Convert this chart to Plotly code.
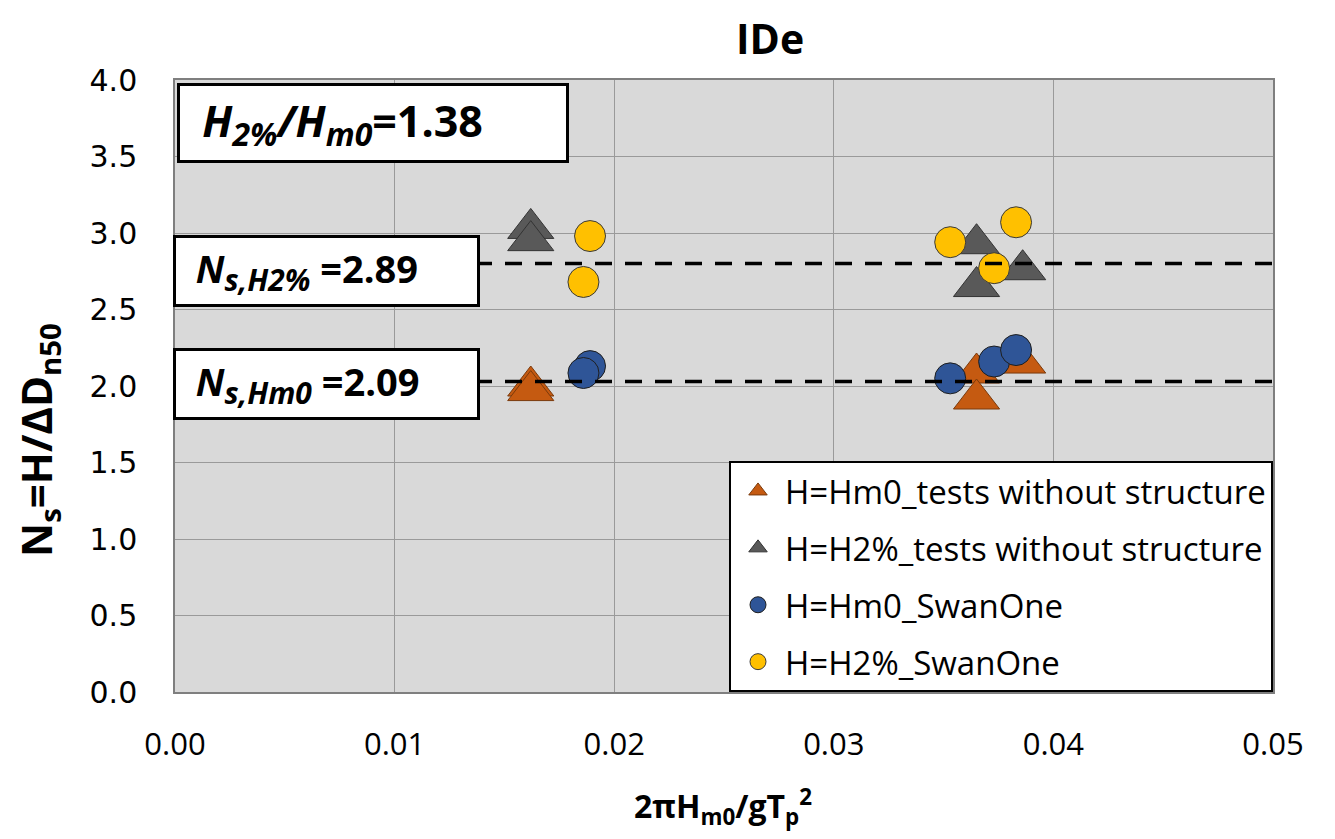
import plotly.graph_objects as go

# ---- data ----
x_hm0_tests = [0.0162, 0.0162, 0.0365, 0.0365, 0.0386]
y_hm0_tests = [2.00, 1.97, 2.085, 1.915, 2.15]
x_h2_tests = [0.0162, 0.0162, 0.0365, 0.0365, 0.0386]
y_h2_tests = [3.03, 2.95, 2.93, 2.65, 2.76]
x_hm0_swan = [0.0189, 0.0186, 0.0353, 0.0373, 0.0383]
y_hm0_swan = [2.13, 2.085, 2.05, 2.16, 2.235]
x_h2_swan = [0.0189, 0.0186, 0.0353, 0.0373, 0.0383]
y_h2_swan = [2.98, 2.68, 2.94, 2.77, 3.07]
ref_x = [0.0, 0.05]
ref_ns_h2 = 2.80
ref_ns_hm0 = 2.03
x_ticks = [0.00, 0.01, 0.02, 0.03, 0.04, 0.05]
y_ticks = [0.0, 0.5, 1.0, 1.5, 2.0, 2.5, 3.0, 3.5, 4.0]

FONT = "Open Sans"
OFF = 8  # page body margin
W, H = 1335 - OFF, 839 - OFF
L, T = 175 - OFF, 80 - OFF
R = W - (1273 - OFF)
B = H - (692 - OFF)
PW = W - L - R
PH = H - T - B


def px(xp):
    return (xp - OFF - L) / PW


def py(yp):
    return (H - B - (yp - OFF)) / PH


def sub(t, size):
    return f"<sub><span style='font-size:{size}px'>{t}</span></sub>"


fig = go.Figure()

fig.add_trace(go.Scatter(
    x=x_hm0_tests, y=y_hm0_tests, mode="markers", name="H=Hm0_tests without structure",
    legendgroup="a",
    marker=dict(symbol="triangle-up", size=40, color="#c55a11", line=dict(color="#7a3a0c", width=1))))
fig.add_trace(go.Scatter(
    x=x_h2_tests, y=y_h2_tests, mode="markers", name="H=H2%_tests without structure",
    legendgroup="b",
    marker=dict(symbol="triangle-up", size=40, color="#595959", line=dict(color="#333333", width=1))))
fig.add_trace(go.Scatter(
    x=x_hm0_swan, y=y_hm0_swan, mode="markers", name="H=Hm0_SwanOne",
    legendgroup="c",
    marker=dict(symbol="circle", size=31, color="#2f5597", line=dict(color="#1f1f1f", width=1))))
fig.add_trace(go.Scatter(
    x=x_h2_swan, y=y_h2_swan, mode="markers", name="H=H2%_SwanOne",
    legendgroup="d",
    marker=dict(symbol="circle", size=31, color="#ffc000", line=dict(color="#3a3a3a", width=1))))

for v in (ref_ns_h2, ref_ns_hm0):
    fig.add_trace(go.Scatter(
        x=ref_x, y=[v, v], mode="lines", showlegend=False, hoverinfo="skip",
        line=dict(color="black", width=3.5, dash="17px,13px")))

annotations = []
# text boxes
annotations.append(dict(
    xref="paper", yref="paper", x=px(177), y=py(83), xanchor="left", yanchor="top",
    width=386, height=74, align="left", valign="middle", borderpad=0,
    text="&nbsp;&nbsp;<b><i>H" + sub("2%", 32) + "/H" + sub("m0", 32) + "</i>=1.38</b>",
    font=dict(family=FONT, size=43, color="black"),
    bgcolor="white", bordercolor="black", borderwidth=3, showarrow=False))
annotations.append(dict(
    xref="paper", yref="paper", x=px(173), y=py(235), xanchor="left", yanchor="top",
    width=301, height=66, align="left", valign="middle", borderpad=0,
    text="&nbsp;&nbsp;<b><i>N" + sub("s,H2%", 30) + "</i> =2.89</b>",
    font=dict(family=FONT, size=38, color="black"),
    bgcolor="white", bordercolor="black", borderwidth=3, showarrow=False))
annotations.append(dict(
    xref="paper", yref="paper", x=px(173), y=py(348), xanchor="left", yanchor="top",
    width=301, height=66, align="left", valign="middle", borderpad=0,
    text="&nbsp;&nbsp;<b><i>N" + sub("s,Hm0", 30) + "</i> =2.09</b>",
    font=dict(family=FONT, size=38, color="black"),
    bgcolor="white", bordercolor="black", borderwidth=3, showarrow=False))
# titles
annotations.append(dict(
    xref="paper", yref="paper", x=px(770), y=py(38), xanchor="center", yanchor="middle",
    text="<b>IDe</b>", font=dict(family=FONT, size=41, color="black"), showarrow=False))
annotations.append(dict(
    xref="paper", yref="paper", x=px(723), y=py(806), xanchor="center", yanchor="middle",
    text="<b>2πH<sub>m0</sub>/gT<sub>p</sub><sup>2</sup></b>",
    font=dict(family=FONT, size=32, color="black"), showarrow=False))
annotations.append(dict(
    xref="paper", yref="paper", x=px(38), y=py(440), xanchor="center", yanchor="middle",
    textangle=-90,
    text="<b>N<sub>s</sub>=H/ΔD<sub>n50</sub></b>",
    font=dict(family=FONT, size=42, color="black"), showarrow=False))

fig.update_layout(
    width=W, height=H,
    margin=dict(l=L, r=R, t=T, b=B),
    paper_bgcolor="white", plot_bgcolor="#d9d9d9",
    showlegend=True,
    legend=dict(
        x=1, y=0, xanchor="right", yanchor="bottom",
        bgcolor="white", bordercolor="black", borderwidth=2,
        font=dict(family=FONT, size=33, color="black"),
        tracegroupgap=11, traceorder="grouped",
        itemwidth=44),
    annotations=annotations,
)
fig.update_xaxes(
    range=[0, 0.05], tickvals=x_ticks, ticktext=[f"{v:.2f}" for v in x_ticks],
    showgrid=True, gridcolor="#9a9a9a", gridwidth=1, zeroline=False,
    showline=True, linecolor="#7f7f7f", linewidth=1.5, mirror=True,
    ticks="", ticklabelstandoff=24,
    tickfont=dict(family=FONT, size=31, color="black"))
fig.update_yaxes(
    range=[0, 4], tickvals=y_ticks, ticktext=[f"{v:.1f}" for v in y_ticks],
    showgrid=True, gridcolor="#9a9a9a", gridwidth=1, zeroline=False,
    showline=True, linecolor="#7f7f7f", linewidth=1.5, mirror=True,
    ticks="", ticklabelstandoff=30,
    tickfont=dict(family="DejaVu Sans", size=30, color="black"))

fig.write_html("out.html")
